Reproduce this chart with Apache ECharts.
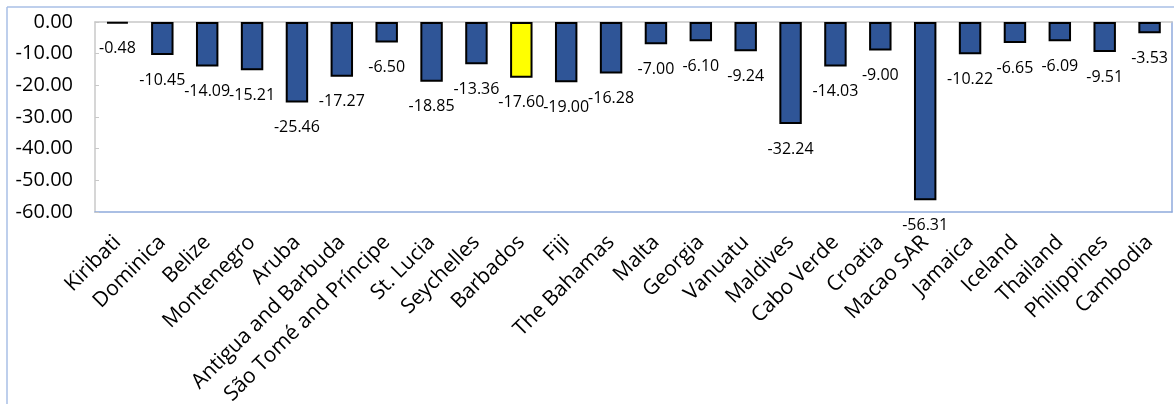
<!DOCTYPE html>
<html><head><meta charset="utf-8">
<script src="https://cdn.jsdelivr.net/npm/echarts@6/dist/echarts.min.js"></script>
<style>html,body{margin:0;padding:0;background:#fff}#c{width:1174px;height:404px}</style>
</head><body><div id="c"></div>
<script>
const categories = ["Kiribati","Dominica","Belize","Montenegro","Aruba","Antigua and Barbuda","São Tomé and Príncipe","St. Lucia","Seychelles","Barbados","Fiji","The Bahamas","Malta","Georgia","Vanuatu","Maldives","Cabo Verde","Croatia","Macao SAR","Jamaica","Iceland","Thailand","Philippines","Cambodia"];
const values = [-0.48,-10.45,-14.09,-15.21,-25.46,-17.27,-6.50,-18.85,-13.36,-17.60,-19.00,-16.28,-7.00,-6.10,-9.24,-32.24,-14.03,-9.00,-56.31,-10.22,-6.65,-6.09,-9.51,-3.53];
const highlight = "Barbados";
const yTicks = [0,-10,-20,-30,-40,-50,-60];

const FONT = "Open Sans";
const chart = echarts.init(document.getElementById('c'), null, {renderer:'canvas'});
chart.setOption({
  animation:false,
  textStyle:{fontFamily:FONT},
  grid:{left:95,right:2,top:22,bottom:192,containLabel:false,outerBoundsMode:'none'},
  xAxis:[{
    type:'category', data:categories, position:'bottom',
    axisLine:{show:true,onZero:false,lineStyle:{color:'#8FAADC',width:1.5}},
    axisTick:{show:false},
    axisLabel:{interval:0,rotate:45,fontSize:21,color:'#000',fontFamily:FONT,margin:27}
  },{
    type:'category', data:categories, position:'top',
    axisLine:{show:true,onZero:false,lineStyle:{color:'#c8c8c8',width:1.5}},
    axisTick:{show:false}, axisLabel:{show:false}
  }],
  yAxis:[{
    type:'value', min:Math.min(...yTicks), max:Math.max(...yTicks), interval:10,
    axisLine:{show:true,lineStyle:{color:'#c8c8c8',width:1.5}},
    axisTick:{show:true,inside:true,length:4,lineStyle:{color:'#c8c8c8'}},
    splitLine:{show:false},
    axisLabel:{formatter:v=>v.toFixed(2),fontSize:20,color:'#000',fontFamily:FONT,margin:22}
  },{
    type:'value', position:'right', min:Math.min(...yTicks), max:Math.max(...yTicks), interval:10,
    axisLine:{show:true,lineStyle:{color:'#8FAADC',width:1.5}},
    axisTick:{show:false}, axisLabel:{show:false}, splitLine:{show:false}
  }],
  graphic:[
    {type:'line',shape:{x1:7,y1:7,x2:1174,y2:7},style:{stroke:'#A9BFE6',lineWidth:1.5},silent:true},
    {type:'line',shape:{x1:7,y1:7,x2:7,y2:404},style:{stroke:'#A9BFE6',lineWidth:1.5},silent:true}
  ],
  series:[{
    type:'bar', xAxisIndex:0, yAxisIndex:0, barWidth:'50%',
    data:values.map((v,i)=>({value:v,itemStyle:{color:categories[i]===highlight?'#FFFF00':'#2F5597'}})),
    itemStyle:{borderColor:'#000',borderWidth:2},
    label:{show:true,position:'bottom',distance:17,formatter:p=>p.value.toFixed(2),fontSize:16,color:'#000',fontFamily:FONT}
  }]
});
</script></body></html>
